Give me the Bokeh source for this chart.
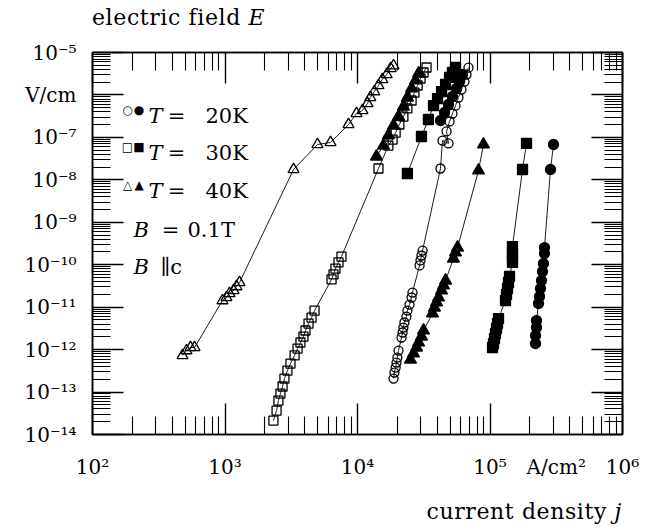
from bokeh.plotting import figure
from bokeh.layouts import column
from bokeh.models import FixedTicker, LogAxis, Label, CustomJSTickFormatter, Div
from bokeh.embed import file_html
from bokeh.resources import INLINE

# ---------------- data (current density j [A/cm^2], electric field E [V/cm]) -------------
j_40K_open = [478, 512, 549, 589, 957, 1026, 1081, 1160, 1221, 1287, 3290, 4990, 6260,
              8550, 9830, 10900, 11900, 12500, 13400, 14400, 15400, 16600, 17800, 18700]
E_40K_open = [7.3e-13, 9.5e-13, 1.12e-12, 1.12e-12, 1.43e-11, 1.69e-11, 2.10e-11, 2.47e-11,
              3.06e-11, 3.81e-11, 1.75e-8, 6.8e-8, 7.6e-8, 2.01e-7, 3.65e-7, 4.3e-7, 6.3e-7,
              8.7e-7, 1.2e-6, 1.67e-6, 2.31e-6, 3.03e-6, 4.2e-6, 4.9e-6]

j_30K_open = [2320, 2450, 2530, 2620, 2720, 2810, 2960, 3120, 3350, 3530, 3710, 3910, 4050,
              4270, 4500, 4740, 6370, 6590, 6820, 7190, 7570, 14400, 17100, 18400, 19400,
              20700, 22200, 23800, 25600, 26900, 28400, 29900, 31500, 33200]
E_30K_open = [2.13e-14, 3.67e-14, 6.3e-14, 9.2e-14, 1.35e-13, 2.08e-13, 3.21e-13, 4.7e-13,
              7.3e-13, 1.06e-12, 1.47e-12, 2.03e-12, 2.82e-12, 4.1e-12, 5.7e-12, 8.3e-12,
              4.5e-11, 5.9e-11, 8.1e-11, 1.13e-10, 1.56e-10, 1.85e-8, 6.4e-8, 8.9e-8, 1.3e-7,
              2.01e-7, 3.1e-7, 4.8e-7, 7.4e-7, 1.14e-6, 1.67e-6, 2.44e-6, 3.38e-6, 4.43e-6]

j_20K_open = [18700, 19000, 19400, 19700, 20000, 20400, 21500, 21900, 22200, 22600, 23400,
              23800, 24700, 25600, 26000, 29400, 29900, 30400, 31000, 42300, 43800, 48600,
              47000, 49500, 52100, 54900, 57800, 60900, 64200, 66500, 68800]
E_20K_open = [2.08e-13, 2.88e-13, 3.78e-13, 4.96e-13, 6.5e-13, 9.5e-13, 1.93e-12, 2.53e-12,
              3.31e-12, 4.35e-12, 6.0e-12, 8.3e-12, 1.15e-11, 1.69e-11, 2.21e-11, 9.6e-11,
              1.26e-10, 1.65e-10, 2.16e-10, 1.85e-8, 8.4e-8, 7.2e-8, 1.38e-7, 2.37e-7,
              3.65e-7, 5.6e-7, 8.7e-7, 1.34e-6, 2.07e-6, 3.03e-6, 4.4e-6]

j_40K_filled_hi = [13900, 15700, 17100, 18700, 20400, 22200, 23800, 25600, 27400, 28900]
E_40K_filled_hi = [3.54e-8, 6.4e-8, 1.11e-7, 1.9e-7, 3.1e-7, 5.3e-7, 8.7e-7, 1.42e-6,
                   2.19e-6, 3.2e-6]

j_30K_filled_hi = [23800, 30400, 34300, 37500, 40200, 43100, 46200, 49500, 52100, 54900]
E_30K_filled_hi = [1.41e-8, 1.05e-7, 2.64e-7, 5.6e-7, 8.2e-7, 1.2e-6, 1.76e-6, 2.58e-6,
                   3.38e-6, 4.43e-6]

j_20K_filled_hi = [42300, 45400, 48600, 52100, 55900, 58900, 62000]
E_20K_filled_hi = [2.5e-7, 3.86e-7, 5.95e-7, 9.2e-7, 1.42e-6, 2.07e-6, 3.03e-6]

j_40K_filled = [25100, 26500, 27900, 28900, 30400, 31500, 36800, 38100, 39500, 40900,
                43100, 44600, 46200, 53000, 54900, 56900, 81900, 89300]
E_40K_filled = [5.8e-13, 8.1e-13, 1.12e-12, 1.47e-12, 2.03e-12, 2.82e-12, 7.1e-12, 9.8e-12,
                1.29e-11, 1.69e-11, 2.47e-11, 3.24e-11, 4.24e-11, 1.4e-10, 1.94e-10,
                2.54e-10, 1.66e-8, 6.8e-8]

j_30K_filled = [104500, 106300, 108100, 110000, 112000, 113900, 115900, 130900, 133200,
                135600, 137900, 140400, 147800, 147800, 147800, 147800, 176000, 188600]
E_30K_filled = [1.12e-12, 1.39e-12, 1.82e-12, 2.39e-12, 3.14e-12, 4.1e-12, 5.4e-12, 1.43e-11,
                1.99e-11, 2.75e-11, 3.81e-11, 5.3e-11, 1.13e-10, 1.48e-10, 1.94e-10,
                2.68e-10, 1.75e-8, 7.2e-8]

j_20K_filled = [220500, 220500, 224300, 224300, 232300, 236400, 240500, 244700, 248900,
                253300, 257800, 257800, 286200, 301400]
E_20K_filled = [1.39e-12, 2.15e-12, 3.31e-12, 4.84e-12, 1.22e-11, 1.78e-11, 2.75e-11,
                4.24e-11, 6.9e-11, 1.07e-10, 1.84e-10, 2.54e-10, 1.75e-8, 6.8e-8]

x_major = [1e2, 1e3, 1e4, 1e5, 1e6]
x_tick_labels = ["10²", "10³", "10⁴", "10⁵", "10⁶"]
x_unit_label = "A/cm²"
y_major = [1e-14, 1e-13, 1e-12, 1e-11, 1e-10, 1e-9, 1e-8, 1e-7, 1e-6, 1e-5]
y_tick_labels = ["10⁻¹⁴", "10⁻¹³", "10⁻¹²", "10⁻¹¹", "10⁻¹⁰", "10⁻⁹", "10⁻⁸", "10⁻⁷",
                 "V/cm", "10⁻⁵"]

legend_temps = ["20K", "30K", "40K"]
legend_symbols = [("○", "●"), ("□", "■"), ("△", "▲")]


def minors(majors):
    return [m * k for m in majors[:-1] for k in range(2, 10)]


SERIF = "DejaVu Serif"

p = figure(width=656, height=464, x_axis_type="log", y_axis_type="log",
           x_range=(1e2, 1e6), y_range=(1e-14, 1e-5),
           output_backend="svg", toolbar_location=None,
           min_border_left=92, min_border_right=34, min_border_top=16, min_border_bottom=66)
p.grid.visible = False
p.outline_line_color = "black"
p.outline_line_width = 1.5
p.background_fill_color = "white"
p.border_fill_color = "white"


def style(ax, ticks):
    ax.ticker = FixedTicker(ticks=ticks, minor_ticks=minors(ticks))
    ax.major_tick_in = 31
    ax.major_tick_out = 0
    ax.minor_tick_in = 18
    ax.minor_tick_out = 0
    ax.axis_line_width = 1.6
    ax.axis_line_color = "black"
    ax.major_tick_line_width = 1.4
    ax.minor_tick_line_width = 1.1
    ax.major_tick_line_color = "black"
    ax.minor_tick_line_color = "black"
    ax.major_label_text_font = SERIF
    ax.major_label_text_font_size = "20px"
    ax.major_label_text_color = "black"


blank = CustomJSTickFormatter(code="return ''")

# bottom: tick axis (no labels) + label axis (labels only, incl. unit)
style(p.xaxis[0], x_major)
p.xaxis[0].formatter = blank
p.xaxis[0].major_label_text_font_size = "0px"
p.xaxis[0].major_label_standoff = 0

unit_pos = (x_major[-2] * x_major[-1]) ** 0.5
label_ticks = x_major + [unit_pos]
x_label_axis = LogAxis(ticker=FixedTicker(ticks=label_ticks, minor_ticks=[]))
x_label_axis.major_label_overrides = dict(zip(label_ticks, x_tick_labels + [x_unit_label]))
x_label_axis.axis_line_color = None
x_label_axis.major_tick_line_color = None
x_label_axis.minor_tick_line_color = None
x_label_axis.major_tick_in = 0
x_label_axis.major_tick_out = 0
x_label_axis.minor_tick_in = 0
x_label_axis.minor_tick_out = 0
x_label_axis.major_label_standoff = 20
x_label_axis.major_label_text_font = SERIF
x_label_axis.major_label_text_font_size = "20px"
x_label_axis.major_label_text_color = "black"
p.add_layout(x_label_axis, "below")

style(p.yaxis[0], y_major)
p.yaxis[0].major_label_overrides = dict(zip(y_major, y_tick_labels))
p.yaxis[0].major_label_standoff = 16

top_ax = LogAxis(formatter=blank)
style(top_ax, x_major)
top_ax.major_label_text_font_size = "0px"
top_ax.major_label_standoff = 0
right_ax = LogAxis(formatter=blank)
style(right_ax, y_major)
right_ax.major_label_text_font_size = "0px"
right_ax.major_label_standoff = 0
p.add_layout(top_ax, "above")
p.add_layout(right_ax, "right")

# ---------------- series ----------------
series = [
    (j_40K_open, E_40K_open, "triangle", False),
    (j_30K_open, E_30K_open, "square", False),
    (j_20K_open, E_20K_open, "circle", False),
    (j_40K_filled_hi, E_40K_filled_hi, "triangle", True),
    (j_30K_filled_hi, E_30K_filled_hi, "square", True),
    (j_20K_filled_hi, E_20K_filled_hi, "circle", True),
    (j_40K_filled, E_40K_filled, "triangle", True),
    (j_30K_filled, E_30K_filled, "square", True),
    (j_20K_filled, E_20K_filled, "circle", True),
]
sizes = {"triangle": 11, "square": 9, "circle": 9}

for j, E, marker, filled in series:
    p.line(j, E, line_color="black", line_width=0.9)
for j, E, marker, filled in series:
    p.scatter(j, E, marker=marker, size=sizes[marker] + (1 if filled else 0),
              fill_color="black" if filled else None,
              line_color="black", line_width=1.3)


# ---------------- legend texts inside the frame ----------------
def px2x(px):
    return 10 ** (2 + (px - 92) / 132.5)


def px2y(py):
    return 10 ** (-5 - (py - 52) / (382 / 9))


def lab(px, py, text, size="21px", style_="normal", align="left",
        baseline="alphabetic", font=SERIF):
    p.add_layout(Label(x=px2x(px), y=px2y(py), text=text, text_font=font,
                       text_font_size=size, text_font_style=style_, text_align=align,
                       text_baseline=baseline, text_color="black"))


row_base = [115, 152, 190]
for (o_sym, f_sym), temp, yb in zip(legend_symbols, legend_temps, row_base):
    lab(127, yb - 6, o_sym, size="12px", align="center", baseline="middle", font="DejaVu Sans")
    lab(138.5, yb - 6, f_sym, size="12px", align="center", baseline="middle", font="DejaVu Sans")
    lab(148, yb, "T", style_="italic")
    lab(176, yb, "=", align="center")
    lab(205, yb, temp)

lab(133, 229, "B", style_="italic")
lab(170, 229, "=", align="center")
lab(187, 229, "0.1T")
lab(133, 266, "B", style_="italic")
lab(160, 266, "∥c")

# ---------------- titles as page text ----------------
title_div = Div(text=('<div style="padding-left:92px;font-family:\'DejaVu Serif\';'
                      'font-size:22px;letter-spacing:0.6px;line-height:36px;color:black;'
                      'white-space:nowrap;">electric field <i>E</i></div>'),
                width=656, height=36, margin=0)
xlabel_div = Div(text=('<div style="width:622px;text-align:right;font-family:\'DejaVu Serif\';'
                       'font-size:22px;letter-spacing:0.6px;line-height:24px;color:black;'
                       'white-space:nowrap;">current density <i>j</i></div>'),
                 width=656, height=24, margin=0)

layout = column(title_div, p, xlabel_div, spacing=0)

open("out.html", "w").write(file_html(layout, INLINE))
